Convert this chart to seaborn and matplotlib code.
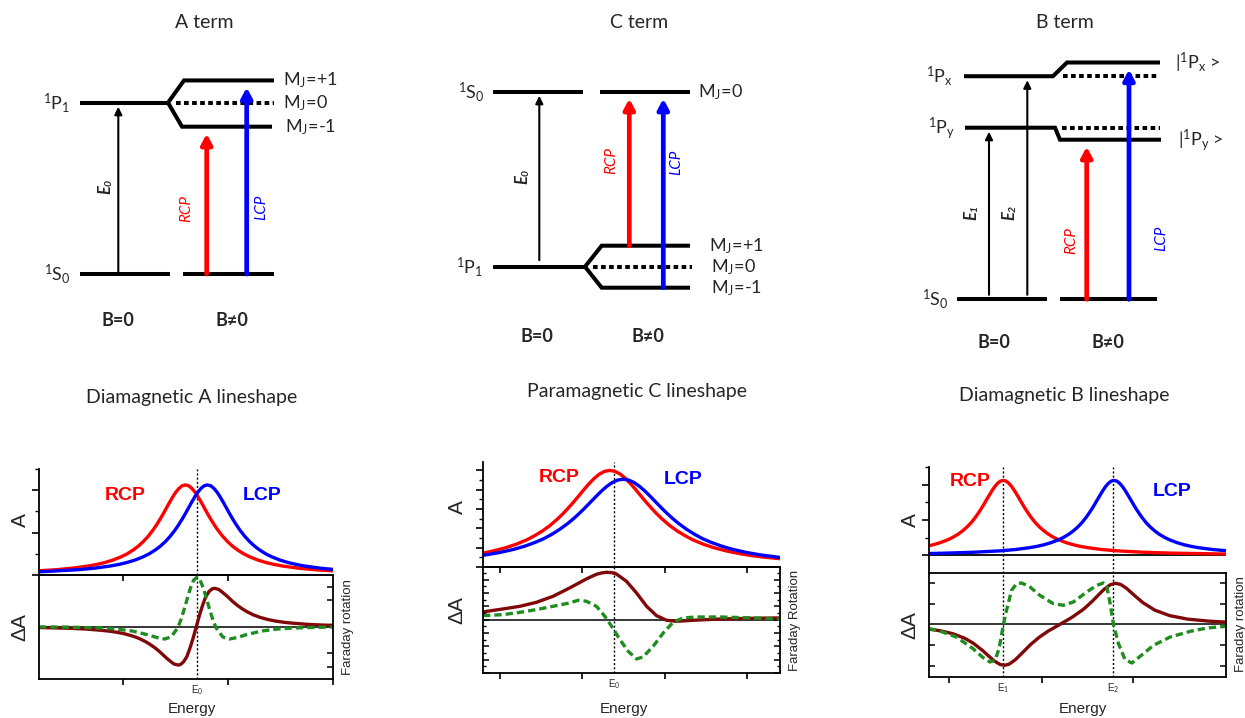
import numpy as np
import pandas as pd
import matplotlib
matplotlib.use('Agg')
import matplotlib.pyplot as plt
import seaborn as sns
from matplotlib.ticker import FixedLocator, MultipleLocator

sns.set_theme(style='white')
plt.rcParams['font.family'] = ['Lato', 'DejaVu Sans']
plt.rcParams['mathtext.fontset'] = 'custom'
plt.rcParams['mathtext.rm'] = 'Lato'
plt.rcParams['mathtext.it'] = 'Lato:italic'
plt.rcParams['mathtext.bf'] = 'Lato:bold'

W, H = 1245, 718
SPEC_FONT = ['Liberation Sans', 'DejaVu Sans']
RED, BLUE, BROWN, GREEN = '#ff0000', '#0000ff', '#800808', '#1f8c1f'

# =====================================
# Energy level data (arbitrary units)
# =====================================
# A term: 1S0 -> 1P1, excited state split by the field
a_levels = [0.0, 10.0]            # 1S0, 1P1
a_split = [11.3, 10.0, 8.6]       # MJ = +1, 0, -1
# C term: split 1P1 ground state -> 1S0
c_levels = [0.0, 10.0]            # 1P1, 1S0
c_split = [1.2, 0.0, -1.2]        # MJ = +1, 0, -1
# B term: two excited states mixed by the field
b_levels = [0.0, 10.0, 13.0]      # 1S0, 1Py, 1Px
b_mixed = [9.3, 13.8]             # |1Py>, |1Px>
mj_labels = ['M$_\\mathrm{J}$=+1', 'M$_\\mathrm{J}$=0', 'M$_\\mathrm{J}$=-1']

# =====================================
# Spectra (energy 0-100 across each panel)
# =====================================
a_band = [53.7]
a_band_labels = ['E$_0$']
a_rcp_x = [0, 5.8, 11.3, 16.8, 19.55, 22.3, 25.05, 27.8, 30.0, 32.2, 33.85, 35.5, 37.15, 38.8, 39.9, 41.0, 42.1, 43.2, 44.3, 45.4, 46.5, 47.6, 48.7, 49.8,
           50.9, 52.0, 53.1, 54.2, 55.3, 56.4, 57.5, 58.6, 59.7, 60.8, 62.45, 64.1, 65.75, 67.4, 69.6, 71.8, 74.55, 77.3, 80.05, 82.8, 88.3, 93.8, 100]
a_rcp_y = [4.0, 5.0, 6.4, 8.5, 9.9, 11.7, 14.0, 17.0, 20.0, 23.9, 27.4, 31.6, 36.6, 42.5, 47.0, 51.8, 57.0, 62.5, 68.0, 73.3, 78.0, 81.7, 84.2, 85.0,
           84.2, 81.7, 78.0, 73.3, 68.0, 62.5, 57.0, 51.8, 47.0, 42.5, 36.6, 31.6, 27.4, 23.9, 20.0, 17.0, 14.0, 11.7, 9.9, 8.5, 6.4, 5.0, 3.9]
a_lcp_x = [0, 2.3, 13.3, 18.8, 24.3, 27.05, 29.8, 32.55, 35.3, 37.5, 39.7, 41.35, 43.0, 44.65, 46.3, 47.4, 48.5, 49.6, 50.7, 51.8, 52.9, 54.0, 55.1, 56.2, 57.3,
           58.4, 59.5, 60.6, 61.7, 62.8, 63.9, 65.0, 66.1, 67.2, 68.3, 69.95, 71.6, 73.25, 74.9, 77.1, 79.3, 82.05, 84.8, 87.55, 90.3, 95.8, 100]
a_lcp_y = [3.0, 3.3, 5.0, 6.4, 8.5, 9.9, 11.7, 14.0, 17.0, 20.0, 23.9, 27.4, 31.6, 36.6, 42.5, 47.0, 51.8, 57.0, 62.5, 68.0, 73.3, 78.0, 81.7, 84.2, 85.0,
           84.2, 81.7, 78.0, 73.3, 68.0, 62.5, 57.0, 51.8, 47.0, 42.5, 36.6, 31.6, 27.4, 23.9, 20.0, 17.0, 14.0, 11.7, 9.9, 8.5, 6.4, 5.3]
a_mcd_x = [0, 10.3, 15.7, 21.1, 23.8, 26.5, 29.2, 31.9, 34.1, 36.2, 37.8, 39.5, 41.1, 42.7, 43.8, 44.9, 45.9, 47.3, 48.1, 49.2, 50.3, 51.3, 52.4, 53.5,
           54.6, 55.7, 56.7, 57.8, 58.9, 59.7, 61.1, 62.1, 63.2, 64.3, 65.9, 67.5, 69.2, 70.8, 72.9, 75.1, 77.8, 80.5, 83.2, 85.9, 91.3, 96.7, 100]
a_mcd_y = [-0.8, -1.5, -2.2, -3.4, -4.2, -5.3, -6.8, -8.9, -11.2, -14.1, -16.8, -20.1, -23.8, -28.0, -30.7, -33.2, -35.3, -36.3, -35.8, -33.2, -28.2, -20.7, -11.0, 0.0,
           11.0, 20.7, 28.2, 33.2, 35.8, 36.3, 35.3, 33.2, 30.7, 28.0, 23.8, 20.1, 16.8, 14.1, 11.2, 8.9, 6.8, 5.3, 4.2, 3.4, 2.2, 1.5, 1.3]
a_rot_x = [0, 9.7, 20.7, 26.2, 31.7, 37.2, 40.0, 42.7, 44.9, 47.1, 48.2, 49.3, 50.4, 51.5, 52.6, 53.7, 54.8, 55.9, 57.0, 58.1, 59.2, 60.3, 62.5, 64.7, 67.5, 70.2, 75.7, 81.2, 86.7, 97.7, 100]
a_rot_y = [-0.2, -0.4, -1.2, -2.2, -4.1, -7.8, -10.2, -11.7, -9.7, -1.5, 6.0, 15.6, 26.3, 36.5, 44.0, 46.7, 44.0, 36.5, 26.3, 15.6, 6.0, -1.5, -9.7, -11.7, -10.2, -7.8, -4.1, -2.2, -1.2, -0.4, -0.35]

c_band = [44.1]
c_band_labels = ['E$_0$']
c_rcp_x = [0, 3.3, 7.7, 11.2, 14.7, 17.3, 19.95, 22.6, 25.2, 26.95, 28.7, 30.45, 32.2, 33.95, 35.7, 37.45, 39.2, 40.95, 42.7,
           44.45, 46.2, 47.95, 49.7, 51.45, 53.2, 54.95, 56.7, 58.45, 60.2, 62.8, 65.45, 68.1, 70.7, 74.2, 77.7, 82.1, 86.45, 90.8, 95.2, 100]
c_rcp_y = [13.2, 15.2, 18.4, 21.7, 25.8, 29.7, 34.2, 39.6, 46.0, 50.8, 56.1, 61.7, 67.6, 73.6, 79.3, 84.4, 88.5, 91.1, 92.0,
           91.1, 88.5, 84.4, 79.3, 73.6, 67.6, 61.7, 56.1, 50.8, 46.0, 39.6, 34.2, 29.7, 25.8, 21.7, 18.4, 15.2, 12.7, 10.7, 9.2, 7.9]
c_lcp_x = [0, 5.6, 10.2, 13.9, 17.6, 20.4, 23.15, 25.9, 28.7, 30.55, 32.4, 34.25, 36.1, 37.95, 39.8, 41.65, 43.5, 45.35, 47.2,
           49.05, 50.9, 52.75, 54.6, 56.45, 58.3, 60.15, 62.0, 63.85, 65.7, 68.5, 71.25, 74.0, 76.8, 80.5, 84.2, 88.8, 93.45, 98.1, 100]
c_lcp_y = [11.1, 13.8, 16.7, 19.7, 23.5, 26.9, 31.1, 36.0, 41.8, 46.2, 51.0, 56.1, 61.5, 66.9, 72.1, 76.7, 80.4, 82.8, 83.6,
           82.8, 80.4, 76.7, 72.1, 66.9, 61.5, 56.1, 51.0, 46.2, 41.8, 36.0, 31.1, 26.9, 23.5, 19.7, 16.7, 13.8, 11.5, 9.8, 9.1]
c_mcd_x = [0, 6.7, 12.4, 18.0, 23.6, 29.2, 34.8, 38.2, 40.0, 41.6, 43.3, 44.9, 48.3, 51.7, 55.1, 58.4, 61.8, 65.2, 70.8, 79.8, 91.0, 100]
c_mcd_y = [7.3, 10.1, 12.6, 16.4, 22.1, 30.0, 38.5, 42.9, 44.2, 44.8, 44.5, 43.2, 36.3, 25.2, 12.6, 3.8, -0.6, -1.6, -0.6, 0.6, 1.3, 1.6]
c_rot_x = [0, 6.7, 12.4, 18.0, 23.6, 29.2, 32.0, 34.8, 38.2, 41.0, 43.3, 46.1, 48.9, 51.7, 53.9, 57.3, 60.7, 64.0, 67.4, 71.9, 79.8, 91.0, 100]
c_rot_y = [3.8, 4.7, 6.9, 9.5, 12.6, 15.8, 18.3, 17.4, 12.6, 3.2, -6.3, -18.9, -30.0, -37.2, -35.3, -25.2, -12.6, -2.5, 1.6, 2.5, 2.5, 1.6, 0.6]

b_band = [25.0, 62.1]
b_band_labels = ['E$_1$', 'E$_2$']
b_rcp_x = [0, 1.25, 3.6, 6.0, 7.9, 9.8, 11.2, 12.65, 14.1, 15.5, 16.45, 17.4, 18.35, 19.3, 20.25, 21.2, 22.15, 23.1, 24.05, 25.0,
           25.95, 26.9, 27.85, 28.8, 29.75, 30.7, 31.65, 32.6, 33.55, 34.5, 35.9, 37.35, 38.8, 40.2, 42.1, 44.0, 46.4, 48.75, 51.1, 53.5, 58.25, 63.0, 72.5, 82.0, 100]
b_rcp_y = [10.7, 11.7, 14.0, 17.0, 20.0, 23.8, 27.3, 31.5, 36.5, 42.4, 46.9, 51.7, 56.9, 62.4, 67.8, 73.1, 77.8, 81.5, 84.0, 84.8,
           84.0, 81.5, 77.8, 73.1, 67.8, 62.4, 56.9, 51.7, 46.9, 42.4, 36.5, 31.5, 27.3, 23.8, 20.0, 17.0, 14.0, 11.7, 9.9, 8.5, 6.4, 5.0, 3.3, 2.3, 1.3]
b_lcp_x = [0, 5.3, 14.8, 24.3, 29.05, 33.8, 36.2, 38.55, 40.9, 43.3, 45.2, 47.1, 48.5, 49.95, 51.4, 52.8, 53.75, 54.7, 55.65, 56.6, 57.55, 58.5, 59.45, 60.4, 61.35, 62.3,
           63.25, 64.2, 65.15, 66.1, 67.05, 68.0, 68.95, 69.9, 70.85, 71.8, 73.2, 74.65, 76.1, 77.5, 79.4, 81.3, 83.7, 86.05, 88.4, 90.8, 95.55, 100]
b_lcp_y = [1.9, 2.3, 3.3, 5.0, 6.4, 8.5, 9.9, 11.7, 14.0, 17.0, 20.0, 23.8, 27.3, 31.5, 36.5, 42.4, 46.9, 51.7, 56.9, 62.4, 67.8, 73.1, 77.8, 81.5, 84.0, 84.8,
           84.0, 81.5, 77.8, 73.1, 67.8, 62.4, 56.9, 51.7, 46.9, 42.4, 36.5, 31.5, 27.3, 23.8, 20.0, 17.0, 14.0, 11.7, 9.9, 8.5, 6.4, 5.1]
b_mcd_x = [0, 4, 8, 12, 15, 18, 20, 22, 24, 25.5, 27, 29, 31, 34, 37, 40, 44, 48, 52, 55, 57, 59, 61, 62.7, 64.5, 66.5, 69, 72, 76, 81, 87, 94, 100]
b_mcd_y = [-4.8, -6.6, -9.4, -13.9, -19.1, -26.1, -31.5, -36.7, -40.3, -41.0, -39.8, -35.6, -29.8, -20.8, -13.2, -7.0, -0.2, 6.7, 15.0, 23.1, 29.2, 35.1, 39.5, 41.0, 39.9, 36.0, 29.3, 21.7, 14.2, 8.7, 5.2, 3.2, 2.2]
b_rot_x = [0, 3.6, 9.2, 14.8, 18.2, 20.5, 22.2, 23.6, 25.0, 26.1, 27.8, 29.5, 31.2, 34.0, 37.3, 41.8, 45.2, 48.6, 53.1, 56.5, 58.7, 59.8, 61.0, 62.1, 63.8, 66.0, 68.3, 71.1, 75.6, 81.2, 88.0, 93.6, 100]
b_rot_y = [-4.3, -6.7, -12.7, -24.3, -33.3, -37.7, -36.0, -24.3, -1.0, 14.0, 34.0, 40.7, 41.3, 37.3, 29.0, 20.7, 19.0, 22.3, 32.3, 39.0, 41.3, 39.0, 20.7, 0.0, -19.3, -35.3, -38.7, -32.0, -21.0, -12.7, -7.0, -3.7, -2.0]

fig = plt.figure(figsize=(W / 100, H / 100), dpi=100)
fig.patch.set_facecolor('white')


def px_axes(left, top, right, bottom):
    return fig.add_axes([left / W, 1 - bottom / H, (right - left) / W, (bottom - top) / H])


# =====================================
# 1. Lineshape panels
# =====================================
def curve(ax, x, y, color, dashed=False):
    sns.lineplot(x=x, y=y, ax=ax, color=color, lw=2.4, errorbar=None)
    line = ax.lines[-1]
    line.set_solid_capstyle('butt')
    line.set_solid_joinstyle('round')
    if dashed:
        line.set_dashes((2.2, 1.2))


def spec_axes(left, right, top, mid, bottom, top_ymin, low_ylim):
    at = px_axes(left, top, right, mid)
    al = px_axes(left, mid, right, bottom)
    for ax in (at, al):
        ax.set_facecolor('none')
        ax.set_xlim(0, 100)
        for s in ax.spines.values():
            s.set_color('black')
            s.set_linewidth(1.3)
        ax.set_xticks([])
        ax.set_yticks([])
    at.set_ylim(top_ymin, 100)
    at.spines['top'].set_visible(False)
    at.spines['right'].set_visible(False)
    al.set_ylim(*low_ylim)
    al.axhline(0, color='black', lw=1.1, zorder=1)
    return at, al


def finish(at, al, bands, band_labels):
    for xe, lab in zip(bands, band_labels):
        for ax in (at, al):
            ax.axvline(xe, color='black', lw=1.0, ls=(0, (1.5, 1.5)), zorder=1)
        al.annotate(lab, xy=(xe, 0), xycoords=('data', 'axes fraction'),
                    xytext=(0, -3), textcoords='offset points',
                    ha='center', va='top', fontsize=7, family=SPEC_FONT)
    for ax in (at, al):
        ax.set_xlabel('')
        ax.set_ylabel('')


def y_ticks_top(ax, major, minor):
    ax.yaxis.set_major_locator(FixedLocator(major))
    ax.yaxis.set_minor_locator(FixedLocator(minor))
    ax.tick_params(axis='y', which='major', left=True, direction='out', length=5,
                   width=1.2, color='black', labelleft=False)
    ax.tick_params(axis='y', which='minor', left=True, direction='out', length=3,
                   width=1.0, color='black')


def x_ticks(ax, pos):
    ax.xaxis.set_major_locator(FixedLocator(pos))
    ax.tick_params(axis='x', which='major', bottom=True, direction='out', length=4,
                   width=1.2, color='black', labelbottom=False)


# A lineshape
atA, alA = spec_axes(39, 333, 469, 575, 679, 0, (-49.5, 48.9))
curve(atA, a_rcp_x, a_rcp_y, RED)
curve(atA, a_lcp_x, a_lcp_y, BLUE)
curve(alA, a_mcd_x, a_mcd_y, BROWN)
curve(alA, a_rot_x, a_rot_y, GREEN, dashed=True)
y_ticks_top(atA, [0, 40, 80], [20, 60, 100])
x_ticks(atA, [28.6, 64.3])
x_ticks(alA, [28.6, 64.3, 100])
alA.yaxis.set_major_locator(FixedLocator([-37.9, -25.2, 25.2, 37.9]))
alA.tick_params(axis='y', left=False, right=True, direction='in', length=4, width=1.1,
                color='black', labelleft=False)
finish(atA, alA, a_band, a_band_labels)

# C lineshape
atC, alC = spec_axes(483, 780, 462, 567, 673, 0, (-50.5, 49.8))
curve(atC, c_rcp_x, c_rcp_y, RED)
curve(atC, c_lcp_x, c_lcp_y, BLUE)
curve(alC, c_mcd_x, c_mcd_y, BROWN)
curve(alC, c_rot_x, c_rot_y, GREEN, dashed=True)
y_ticks_top(atC, [0, 18.4, 36.8, 55.2, 73.6, 92.0], [9.2, 27.6, 46.0, 64.4, 82.8])
x_ticks(atC, [5.6, 33.4, 61.2, 89.0])
x_ticks(alC, [5.6, 33.4, 61.2, 89.0])
alC.yaxis.set_major_locator(MultipleLocator(12.6))
alC.yaxis.set_minor_locator(MultipleLocator(6.3))
alC.tick_params(axis='y', which='major', left=True, right=True, direction='in', length=4,
                width=1.1, color='black', labelleft=False)
alC.tick_params(axis='y', which='minor', left=True, right=True, direction='in', length=2.5,
                width=1.0, color='black')
finish(atC, alC, c_band, c_band_labels)

# B lineshape
atB, alB = spec_axes(929, 1226, 467, 573, 677, -20.2, (-52.7, 51.3))
atB.spines['bottom'].set_visible(False)
atB.axhline(0, color='black', lw=1.3)
curve(atB, b_rcp_x, b_rcp_y, RED)
curve(atB, b_lcp_x, b_lcp_y, BLUE)
curve(alB, b_mcd_x, b_mcd_y, BROWN)
curve(alB, b_rot_x, b_rot_y, GREEN, dashed=True)
y_ticks_top(atB, [0, 40, 80], [20, 60, 100])
x_ticks(alB, [6.6, 37.9, 68.8])
alB.yaxis.set_major_locator(FixedLocator([-41.3, -20.7, 20.7, 41.3]))
alB.tick_params(axis='y', left=True, right=True, direction='in', length=4, width=1.1,
                color='black', labelleft=False)
finish(atB, alB, b_band, b_band_labels)


# =====================================
# 2. Energy level diagrams
# =====================================
def level_axes(px_lo, px_hi, e_lo, e_hi):
    # full-figure axes whose y axis maps energies onto pixel rows
    ax = fig.add_axes([0, 0, 1, 1])
    scale = (px_lo - px_hi) / (e_hi - e_lo)
    ax.set_xlim(0, W)
    ax.set_ylim(e_lo - (H - px_lo) / scale, e_lo + px_lo / scale)
    ax.axis('off')
    return ax, scale


LEVEL_LW = 2.9


def level(ax, xs, es, dotted=False):
    kw = dict(color='black', lw=LEVEL_LW, solid_capstyle='butt', solid_joinstyle='miter')
    if dotted:
        kw.update(ls=(0, (1.15, 0.85)), dash_capstyle='butt')
    ax.plot(xs, es, **kw)


def transition(ax, scale, x, e_from, e_to, color, thick=False, tail_px=0):
    if thick:
        style, lw, tip_px = '-|>,head_width=0.32,head_length=0.6', 3.4, 7.0
    else:
        style, lw, tip_px = '-|>,head_width=0.22,head_length=0.45', 1.5, 4.0
    ax.annotate('', xy=(x, e_to - tip_px / scale), xytext=(x, e_from + tail_px / scale),
                arrowprops=dict(arrowstyle=style, color=color, lw=lw,
                                shrinkA=0, shrinkB=0, mutation_scale=10))


def state_label(ax, x, e, s, ha='center', size=13):
    ax.text(x, e, s, ha=ha, va='center', fontsize=size)


# A term
axA, sA = level_axes(274, 102.7, a_levels[0], a_levels[1])
level(axA, [80, 168], [a_levels[1]] * 2)
level(axA, [80, 170], [a_levels[0]] * 2)
level(axA, [183, 274], [a_levels[0]] * 2)
level(axA, [168, 184, 274], [a_levels[1], a_split[0], a_split[0]])
level(axA, [168, 182, 272], [a_levels[1], a_split[2], a_split[2]])
level(axA, [176, 274], [a_split[1]] * 2, dotted=True)
transition(axA, sA, 118.3, a_levels[0], a_levels[1], 'black')
transition(axA, sA, 206.7, a_levels[0], a_split[2], RED, thick=True)
transition(axA, sA, 246.7, a_levels[0], a_split[0], BLUE, thick=True)
state_label(axA, 57, a_levels[1], '$^1$P$_1$')
state_label(axA, 57, a_levels[0], '$^1$S$_0$')
for e, lab, x in zip(a_split, mj_labels, [283, 283, 285]):
    state_label(axA, x, e, lab, ha='left', size=13)

# C term
axC, sC = level_axes(266.7, 91.7, c_levels[0], c_levels[1])
level(axC, [493, 583], [c_levels[1]] * 2)
level(axC, [600, 690], [c_levels[1]] * 2)
level(axC, [493, 585], [c_levels[0]] * 2)
level(axC, [585, 601.7, 690], [c_levels[0], c_split[0], c_split[0]])
level(axC, [585, 601.7, 690], [c_levels[0], c_split[2], c_split[2]])
level(axC, [593, 692], [c_split[1]] * 2, dotted=True)
transition(axC, sC, 539.3, c_levels[0], c_levels[1], 'black', tail_px=6.5)
transition(axC, sC, 629.3, c_split[0], c_levels[1], RED, thick=True)
transition(axC, sC, 663.3, c_split[2], c_levels[1], BLUE, thick=True)
state_label(axC, 471.7, c_levels[1], '$^1$S$_0$')
state_label(axC, 470, c_levels[0], '$^1$P$_1$')
state_label(axC, 698, c_levels[1], mj_labels[1], ha='left', size=13)
for e, lab, x in zip(c_split, mj_labels, [709, 711, 711]):
    state_label(axC, x, e, lab, ha='left', size=13)

# B term
axB, sB = level_axes(299.3, 127.7, b_levels[0], b_levels[1])
level(axB, [957, 1047], [b_levels[0]] * 2)
level(axB, [1060, 1157], [b_levels[0]] * 2)
level(axB, [964, 1053, 1067, 1160], [b_levels[2], b_levels[2], b_mixed[1], b_mixed[1]])
level(axB, [965, 1055, 1060, 1161], [b_levels[1], b_levels[1], b_mixed[0], b_mixed[0]])
level(axB, [1063, 1158], [b_levels[2]] * 2, dotted=True)
level(axB, [1062, 1160], [b_levels[1]] * 2, dotted=True)
transition(axB, sB, 989, b_levels[0], b_levels[1], 'black', tail_px=4.5)
transition(axB, sB, 1027.3, b_levels[0], b_levels[2], 'black', tail_px=4.5)
transition(axB, sB, 1086.7, b_levels[0], b_mixed[0], RED, thick=True)
transition(axB, sB, 1129, b_levels[0], b_mixed[1], BLUE, thick=True)
state_label(axB, 940, b_levels[2], '$^1$P$_\\mathrm{x}$')
state_label(axB, 941.7, b_levels[1], '$^1$P$_\\mathrm{y}$')
state_label(axB, 935, b_levels[0], '$^1$S$_0$')
state_label(axB, 1175, b_mixed[1], '|$^1$P$_\\mathrm{x}$ >', ha='left')
state_label(axB, 1178, b_mixed[0], '|$^1$P$_\\mathrm{y}$ >', ha='left')

# =====================================
# 3. Titles and free text
# =====================================
ov = fig.add_axes([0, 0, 1, 1])
ov.set_xlim(0, W)
ov.set_ylim(H, 0)
ov.axis('off')


def txt(x, y, s, size, **kw):
    kw.setdefault('ha', 'center')
    kw.setdefault('va', 'center')
    ov.text(x, y, s, fontsize=size, **kw)


for x, y, s in [(204, 23, 'A term'), (639, 22, 'C term'), (1065, 23, 'B term'),
                (192, 397, 'Diamagnetic A lineshape'),
                (637, 391, 'Paramagnetic C lineshape'),
                (1064, 395, 'Diamagnetic B lineshape')]:
    txt(x, y, s, 14)

# diagram transition labels (bold italic E with subscript, rotated)
for x, y, sub in [(105, 190, '0'), (522, 180, '0'), (971, 216, '1'), (1009, 216, '2')]:
    txt(x, y, 'E', 12, rotation=90, weight='bold', style='italic')
    txt(x + 4, y - 7.5, sub, 7.5, rotation=90, weight='bold', style='italic')
for x, y, s, c in [(186.7, 208, 'RCP', RED), (261.7, 207, 'LCP', BLUE),
                   (611, 160, 'RCP', RED), (676.7, 162, 'LCP', BLUE),
                   (1071.7, 240, 'RCP', RED), (1161.7, 238, 'LCP', BLUE)]:
    txt(x, y, s, 11, rotation=90, style='italic', color=c)
for x, y, s in [(118, 320, 'B=0'), (231.7, 320, 'B≠0'), (537, 337, 'B=0'),
                (648, 337, 'B≠0'), (994, 343, 'B=0'), (1108, 343, 'B≠0')]:
    txt(x, y, s, 13, weight='bold')

# spectra labels
for xa, ya, yd, xf, yf, sf, xe, xr, yr, xl, yl in [
        (20, 520, 627, 348, 627, 'Faraday rotation', 192, 125, 495, 262, 495),
        (457, 507, 610, 795, 620, 'Faraday Rotation', 624, 559, 477, 683, 480),
        (910, 520, 625, 1241, 624, 'Faraday rotation', 1083, 970, 481, 1172, 492)]:
    txt(xa, ya, 'A', 15, rotation=90, family=SPEC_FONT)
    txt(xa, yd, 'ΔA', 15, rotation=90, family=SPEC_FONT)
    txt(xf, yf, sf, 9.5, rotation=90, family=SPEC_FONT)
    txt(xe, 709, 'Energy', 11, family=SPEC_FONT)
    txt(xr, yr, 'RCP', 14, weight='bold', color=RED, family=SPEC_FONT)
    txt(xl, yl, 'LCP', 14, weight='bold', color=BLUE, family=SPEC_FONT)

fig.savefig('out.png', dpi=100)
